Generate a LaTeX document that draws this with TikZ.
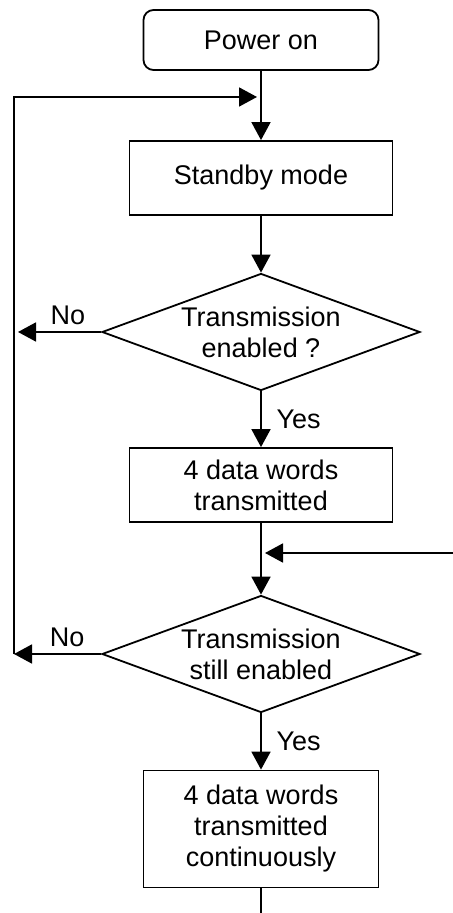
\documentclass[tikz,border=0pt]{standalone}
\usepackage{fontspec}
\setmainfont{Liberation Sans}
\usetikzlibrary{shapes.geometric, arrows.meta}

\begin{document}
\begin{tikzpicture}[x=0.5pt, y=-0.5pt, line width=0.9pt,
  every node/.style={font=\fontsize{13.5}{15.5}\selectfont, align=center},
  box/.style={draw, minimum width=131.5pt, minimum height=37pt, inner sep=0pt},
  cond/.style={draw, diamond, aspect=2.7, inner sep=0pt, minimum width=159pt, minimum height=58.5pt},
  arr/.style={-{Triangle[length=9pt,width=9.5pt]}}]
\useasboundingbox (0,0) rectangle (453,913);
\node[draw, rounded corners=5pt, minimum width=117.5pt, minimum height=30pt] (on) at (261,40) {Power on};
\node[box] (stby) at (261,178) {Standby mode};
\node[cond] (q1) at (261,332) {Transmission\\enabled ?};
\node[box] (dw) at (261,485) {4 data words\\transmitted};
\node[cond] (q2) at (261,654) {Transmission\\still enabled};
\node[box, minimum width=117.5pt, minimum height=58.5pt] (dwc) at (261,829) {4 data words\\transmitted\\continuously};
\coordinate (in1) at (261,97);
\coordinate (in2) at (261,553);
\coordinate (noend) at (18,332);
\coordinate (lc) at (14,654);
\coordinate (lt) at (14,97);
\coordinate (rt) at (453,553);
\coordinate (bot) at (261,913);
\draw[arr] (on) -- (stby);
\draw[arr, shorten >=2pt] (lc) -- (lt) -- (in1);
\draw[arr] (stby) -- (q1);
\draw[arr] (q1.west) -- (noend) node[pos=0.4, above] {No};
\draw[arr] (q1) -- (dw) node[midway, right=4pt] {Yes};
\draw[arr] (dw) -- (q2);
\draw[arr, shorten >=2pt] (rt) -- (in2);
\draw[arr] (q2.west) -- (lc) node[pos=0.39, above] {No};
\draw[arr] (q2) -- (dwc) node[midway, right=4pt] {Yes};
\draw (dwc) -- (bot);
\end{tikzpicture}
\end{document}
